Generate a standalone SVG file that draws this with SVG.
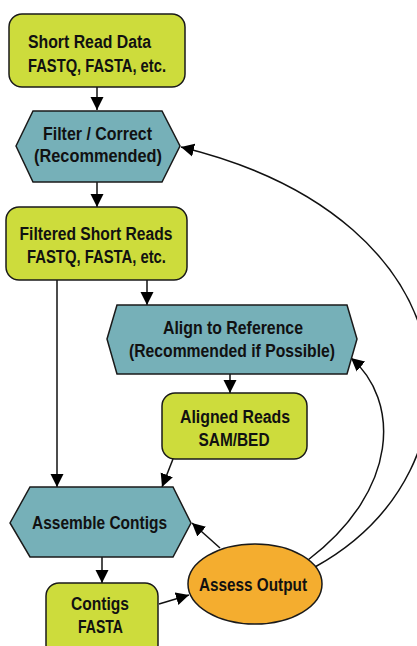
<svg xmlns="http://www.w3.org/2000/svg" width="417" height="646" viewBox="0 0 417 646">
<style>
.g{fill:#cddc3c;stroke:#1a1a1a;stroke-width:1.5}
.t{fill:#76b0b8;stroke:#1a1a1a;stroke-width:1.5}
.o{fill:#f4ad2f;stroke:#1a1a1a;stroke-width:1.5}
text{font-family:"Liberation Sans",Arial,sans-serif;font-weight:bold;font-size:17.5px;fill:#111;text-anchor:middle}
.c{fill:none;stroke:#111;stroke-width:1.5}
</style>
<defs>
<marker id="a" markerUnits="userSpaceOnUse" markerWidth="14" markerHeight="14" viewBox="0 0 14 14" refX="13" refY="7" orient="auto">
<path d="M0,0.5 L13,7 L0,13.5 Z" fill="#000"/>
</marker>
</defs>
<g id="connectors">
<path class="c" d="M97,87 V110" marker-end="url(#a)"/>
<path class="c" d="M97,182 V207" marker-end="url(#a)"/>
<path class="c" d="M147,280 V305" marker-end="url(#a)"/>
<path class="c" d="M57,280 V487" marker-end="url(#a)"/>
<path class="c" d="M230,374 V393" marker-end="url(#a)"/>
<path class="c" d="M173,459 L162,487" marker-end="url(#a)"/>
<path class="c" d="M102,557 V583" marker-end="url(#a)"/>
<path class="c" d="M159,604 L189,595" marker-end="url(#a)"/>
<path class="c" d="M220,548 L192,523" marker-end="url(#a)"/>
<path class="c" d="M308,560 C400,490 400,400 351,358" marker-end="url(#a)"/>
<path class="c" d="M315,567 C490,470 480,220 181,147" marker-end="url(#a)"/>
</g>
<g id="short-read-data">
<rect class="g" x="9" y="14" width="176" height="73" rx="13"/>
<text x="28" y="48" style="text-anchor:start" textLength="123" lengthAdjust="spacingAndGlyphs">Short Read Data</text>
<text x="28" y="72" style="text-anchor:start" textLength="138" lengthAdjust="spacingAndGlyphs">FASTQ, FASTA, etc.</text>
</g>
<g id="filter-correct">
<polygon class="t" points="16,146 33,111 162,111 180,146 162,182 33,182"/>
<text x="97.5" y="140" textLength="109" lengthAdjust="spacingAndGlyphs">Filter / Correct</text>
<text x="98" y="162" textLength="128" lengthAdjust="spacingAndGlyphs">(Recommended)</text>
</g>
<g id="filtered-short-reads">
<rect class="g" x="6" y="207" width="181" height="73" rx="13"/>
<text x="96" y="240" textLength="153" lengthAdjust="spacingAndGlyphs">Filtered Short Reads</text>
<text x="96.5" y="263" textLength="139" lengthAdjust="spacingAndGlyphs">FASTQ, FASTA, etc.</text>
</g>
<g id="align-to-reference">
<polygon class="t" points="107,339 117,305 347,305 357,339 347,374 117,374"/>
<text x="233" y="334" textLength="140" lengthAdjust="spacingAndGlyphs">Align to Reference</text>
<text x="232" y="357" textLength="206" lengthAdjust="spacingAndGlyphs">(Recommended if Possible)</text>
</g>
<g id="aligned-reads">
<rect class="g" x="162" y="393" width="145" height="66" rx="13"/>
<text x="235" y="423" textLength="110" lengthAdjust="spacingAndGlyphs">Aligned Reads</text>
<text x="234" y="446" textLength="71" lengthAdjust="spacingAndGlyphs">SAM/BED</text>
</g>
<g id="assemble-contigs">
<polygon class="t" points="10,523 30,487 173,487 191,523 173,557 30,557"/>
<text x="99.5" y="529" textLength="135" lengthAdjust="spacingAndGlyphs">Assemble Contigs</text>
</g>
<g id="contigs">
<rect class="g" x="46" y="583" width="112" height="75" rx="13"/>
<text x="100" y="610" textLength="58" lengthAdjust="spacingAndGlyphs">Contigs</text>
<text x="100.5" y="633" textLength="45" lengthAdjust="spacingAndGlyphs">FASTA</text>
</g>
<g id="assess-output">
<ellipse class="o" cx="255" cy="584" rx="67" ry="40"/>
<text x="253" y="591" textLength="108" lengthAdjust="spacingAndGlyphs">Assess Output</text>
</g>
</svg>
